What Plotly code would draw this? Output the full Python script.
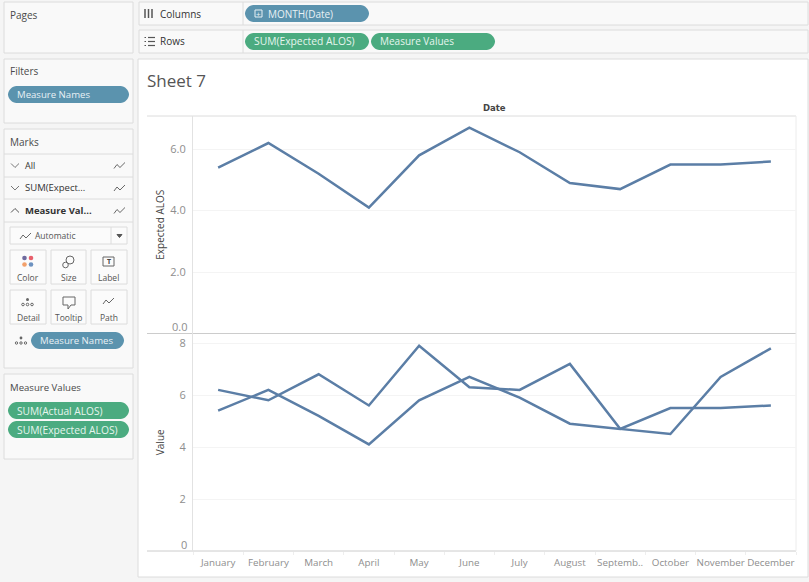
import plotly.graph_objs as go

W = 809
H = 582
FONT = "Open Sans"

# chart data
months = ["January", "February", "March", "April", "May", "June", "July",
          "August", "Septemb..", "October", "November", "December"]
expected_alos = [5.4, 6.2, 5.2, 4.1, 5.8, 6.7, 5.9, 4.9, 4.7, 5.5, 5.5, 5.6]
actual_alos = [6.2, 5.8, 6.8, 5.6, 7.9, 6.3, 6.2, 7.2, 4.7, 4.5, 6.7, 7.8]
top_ticks = [2, 4, 6]
top_tick_labels = ["2.0", "4.0", "6.0"]
bottom_ticks = [2, 4, 6, 8]

LINE = "#5b7ea6"
BLUE_PILL = "#5b93ae"
GREEN_PILL = "#4bab80"
BORDER = "#dcdcdc"
TEXT = "#4a4a4a"
GREY = "#8e8e8e"

shapes = []
notes = []


# helpers work in screen pixels, paper coords come out of them
def px(x):
    return x / W


def py(y):
    return 1 - y / H


def box(x0, y0, x1, y1, fill="#f9f9f9", line=BORDER, width=1):
    shapes.append(dict(type="rect", xref="paper", yref="paper", layer="below",
                       x0=px(x0), y0=py(y0), x1=px(x1), y1=py(y1),
                       fillcolor=fill, line=dict(color=line, width=width)))


def rule(x0, y0, x1, y1, color=BORDER, width=1):
    shapes.append(dict(type="line", xref="paper", yref="paper", layer="below",
                       x0=px(x0), y0=py(y0), x1=px(x1), y1=py(y1),
                       line=dict(color=color, width=width)))


def poly(points, color="#666666", width=1, close=False, fill=None):
    d = "M " + " L ".join(f"{px(x):.5f},{py(y):.5f}" for x, y in points)
    if close:
        d += " Z"
    shapes.append(dict(type="path", xref="paper", yref="paper", layer="above",
                       path=d, fillcolor=fill, line=dict(color=color, width=width)))


def dot(x, y, r, fill="#777777", line=None):
    shapes.append(dict(type="circle", xref="paper", yref="paper", layer="above",
                       x0=px(x - r), y0=py(y - r), x1=px(x + r), y1=py(y + r),
                       fillcolor=fill if fill else "rgba(0,0,0,0)",
                       line=dict(color=line if line else "rgba(0,0,0,0)", width=1)))


def pill(x0, y0, x1, y1, color):
    r = (y1 - y0) / 2
    p = lambda x, y: f"{px(x):.5f},{py(y):.5f}"
    d = (f"M {p(x0 + r, y0)} L {p(x1 - r, y0)} "
         f"C {p(x1 - r / 2, y0)} {p(x1, y0 + r / 2)} {p(x1, y0 + r)} "
         f"C {p(x1, y1 - r / 2)} {p(x1 - r / 2, y1)} {p(x1 - r, y1)} "
         f"L {p(x0 + r, y1)} "
         f"C {p(x0 + r / 2, y1)} {p(x0, y1 - r / 2)} {p(x0, y0 + r)} "
         f"C {p(x0, y0 + r / 2)} {p(x0 + r / 2, y0)} {p(x0 + r, y0)} Z")
    shapes.append(dict(type="path", xref="paper", yref="paper", layer="below",
                       path=d, fillcolor=color, line=dict(color=color, width=0)))


def label(x, y, text, size=10, color=TEXT, anchor="left", bold=False, font=FONT):
    if bold:
        text = f"<b>{text}</b>"
    # annotations carry about 2px of padding on the left
    shift = -2 if anchor == "left" else 0
    notes.append(dict(xref="paper", yref="paper", x=px(x), y=py(y), text=text,
                      showarrow=False, xanchor=anchor, yanchor="middle", xshift=shift,
                      font=dict(family=font, size=size, color=color)))


def spark(x, y):
    # little line-mark glyph
    poly([(x, y + 3), (x + 3, y - 1), (x + 6, y + 2), (x + 11, y - 3)], color="#666666")


# left hand cards
box(4, 2, 133, 53)
label(10, 15, "Pages")
box(4, 59, 133, 123)
label(10, 71, "Filters")
pill(8, 86, 129, 103, BLUE_PILL)
label(17, 94.5, "Measure Names", color="#e8f1f5", size=9.6)

box(4, 129, 133, 368)
label(10, 142, "Marks")
for y in [154, 177, 199, 222]:
    rule(4, y, 133, y)
rows = [("All", 165.5, False, 9), ("SUM(Expect...", 188, False, 9.5), ("Measure Val...", 210.5, True, 9.5)]
for name, y, is_bold, size in rows:
    label(25, y, name, size=size, color="#333333", bold=is_bold)
    spark(114, y)
poly([(11, 163.5), (15, 167.5), (19, 163.5)], color="#777777")
poly([(11, 186), (15, 190), (19, 186)], color="#777777")
poly([(11, 212.5), (15, 208.5), (19, 212.5)], color="#555555")

box(10, 227, 127, 244, fill="#fbfbfb")
rule(111, 227, 111, 244)
spark(20, 236)
label(35, 235.5, "Automatic", size=8.5, color="#555555")
poly([(117, 234.5), (122, 234.5), (119.5, 237.5)], color="#555555", close=True, fill="#555555")

buttons = [("Color", 10, 46, 250, 284), ("Size", 51, 86, 250, 284), ("Label", 91, 127, 250, 284),
           ("Detail", 10, 46, 290, 324), ("Tooltip", 51, 86, 290, 324), ("Path", 91, 127, 290, 324)]
for name, x0, x1, y0, y1 in buttons:
    box(x0, y0, x1, y1, fill="#fbfbfb")
    label((x0 + x1) / 2, y1 - 7, name, size=8.5, color="#555555", anchor="center")

# icons on the mark buttons
dot(24.5, 258, 2.3, fill="#6f6a9e")
dot(31, 258, 2.3, fill="#e8606c")
dot(24.5, 264.5, 2.3, fill="#f2a06b")
dot(31, 264.5, 2.3, fill="#6d92c0")
dot(70, 260, 4, fill=None, line="#666666")
dot(65.5, 265, 2.8, fill="#fbfbfb", line="#666666")
box(103, 257, 114, 266, fill="#fbfbfb", line="#666666")
label(108.5, 261.5, "T", size=7, color="#444444", anchor="center", bold=True)
for x in [23, 27.5, 32]:
    dot(x, 304.5, 1.3, fill=None, line="#666666")
dot(27.5, 299.5, 1.5, fill="#666666")
poly([(63, 297), (75, 297), (75, 305), (71, 305), (68, 309), (68, 305), (63, 305)], close=True)
spark(103, 301)

for x in [16.5, 21, 25.5]:
    dot(x, 343, 1.2, fill=None, line="#666666")
dot(21, 338, 1.4, fill="#666666")
pill(31, 332, 124, 349, BLUE_PILL)
label(40, 340.5, "Measure Names", color="#e8f1f5", size=9.6)

box(4, 374, 133, 459)
label(10, 387, "Measure Values", size=9.6)
pill(8, 402, 129, 419, GREEN_PILL)
label(17, 410.5, "SUM(Actual ALOS)", color="#e6f5ee", size=10.2)
pill(8, 421, 129, 438, GREEN_PILL)
label(17, 429.5, "SUM(Expected ALOS)", color="#e6f5ee", size=10.3)

# shelves
box(139, 2, 808, 25)
box(139, 30, 808, 53)
rule(243, 2, 243, 25)
rule(243, 30, 243, 53)
for x in [145, 148.5, 152]:
    rule(x, 9, x, 18, color="#555555", width=1.5)
for y in [37.5, 41.5, 45.5]:
    rule(148, y, 155, y, color="#555555", width=1.2)
    rule(144.5, y, 146, y, color="#555555", width=1.2)
label(160, 13.5, "Columns", color="#333333")
label(160, 41.5, "Rows", color="#333333")
pill(245, 5, 369, 22, BLUE_PILL)
box(255, 10, 262, 17, fill=BLUE_PILL, line="#e8f1f5")
label(258.5, 13.3, "+", size=8, color="#e8f1f5", anchor="center")
label(268, 13.5, "MONTH(Date)", color="#e8f1f5", size=10)
pill(245, 33, 369, 50, GREEN_PILL)
label(254, 41.5, "SUM(Expected ALOS)", color="#e6f5ee", size=10.3)
pill(371, 33, 495, 50, GREEN_PILL)
label(380, 41.5, "Measure Values", color="#e6f5ee", size=10)

# sheet area
box(138, 59, 808, 577, fill="#ffffff")
label(147, 80.5, "Sheet 7", size=17, color="#555555")
label(494, 107.5, "Date", size=8.5, color="#444444", anchor="center", bold=True, font="DejaVu Sans")
rule(147, 116, 796, 116)
rule(147, 333.5, 796, 333.5, color="#cccccc")
rule(147, 551, 796, 551, color="#cccccc")
rule(796, 116, 796, 551, color="#ececec")

# zero labels sit above the pane edge, so they are nudged by hand
notes.append(dict(xref="x domain", yref="y", x=0, y=0, text="0.0", showarrow=False,
                  xanchor="right", xshift=-4, yshift=7, yanchor="middle",
                  font=dict(family=FONT, size=11, color=GREY)))
notes.append(dict(xref="x2 domain", yref="y2", x=0, y=0, text="0", showarrow=False,
                  xanchor="right", xshift=-4, yshift=7, yanchor="middle",
                  font=dict(family=FONT, size=11, color=GREY)))

traces = [
    go.Scatter(x=months, y=expected_alos, mode="lines", line=dict(color=LINE, width=2.5),
               xaxis="x", yaxis="y", showlegend=False),
    go.Scatter(x=months, y=actual_alos, mode="lines", line=dict(color=LINE, width=2.5),
               xaxis="x2", yaxis="y2", showlegend=False),
    go.Scatter(x=months, y=expected_alos, mode="lines", line=dict(color=LINE, width=2.5),
               xaxis="x2", yaxis="y2", showlegend=False),
]

x_domain = [px(193), px(796)]
layout = go.Layout(
    width=W, height=H, margin=dict(l=0, r=0, t=0, b=0),
    paper_bgcolor="#f5f5f5", plot_bgcolor="rgba(0,0,0,0)",
    font=dict(family=FONT, color=GREY),
    xaxis=dict(domain=x_domain, anchor="y", type="category", categoryorder="array",
               categoryarray=months, range=[-0.5, 11.5], showticklabels=False,
               showgrid=False, zeroline=False),
    yaxis=dict(domain=[py(333.5), py(116)], anchor="x", range=[0, 7.08],
               tickvals=top_ticks, ticktext=top_tick_labels, ticklen=4, ticks="outside",
               tickcolor="rgba(0,0,0,0)", tickfont=dict(size=11, color=GREY),
               gridcolor="#f4f4f4", zeroline=False, showline=True, linecolor="#e2e2e2",
               title=dict(text="Expected ALOS", standoff=3,
                          font=dict(size=10, color="#444444"))),
    xaxis2=dict(domain=x_domain, anchor="y2", type="category", categoryorder="array",
                categoryarray=months, range=[-0.5, 11.5], tickson="boundaries",
                ticks="outside", ticklen=3, tickcolor="#eeeeee", showgrid=False,
                ticklabelstandoff=4, zeroline=False, tickangle=0,
                tickfont=dict(size=9.8, color=GREY)),
    yaxis2=dict(domain=[py(551), py(333.5)], anchor="x2", range=[0, 8.37],
                tickvals=bottom_ticks, ticklen=4, ticks="outside",
                tickcolor="rgba(0,0,0,0)", tickfont=dict(size=11, color=GREY),
                gridcolor="#f4f4f4", zeroline=False, showline=True, linecolor="#e2e2e2",
                title=dict(text="Value", standoff=13,
                           font=dict(size=10, color="#444444"))),
    shapes=shapes, annotations=notes,
)

fig = go.Figure(data=traces, layout=layout)
fig.write_html("out.html", config={"displayModeBar": False},
               post_script="document.body.style.margin='0';document.body.style.overflow='hidden';")
